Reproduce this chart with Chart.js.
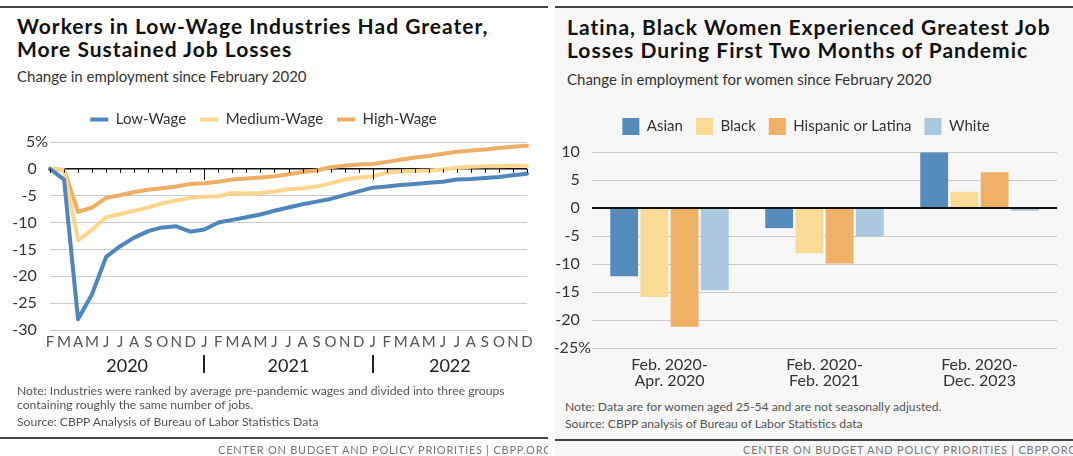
<!DOCTYPE html>
<html>
<head>
<meta charset="utf-8">
<script src="https://cdn.jsdelivr.net/npm/chart.js@4.4.1/dist/chart.umd.min.js"></script>
<style>
  body { margin: 0; width: 1073px; height: 456px; background: #fff; font-family: Lato, sans-serif; overflow: hidden; position: relative; }
  .panel { position: absolute; top: 0; height: 456px; overflow: hidden; }
  #left { left: 0; width: 548px; background: #fff; }
  #right { left: 555px; width: 518px; background: #fff; }
  #right .shade { position: absolute; left: 0; top: 8px; right: 0; bottom: 0; background: #f7f7f7; }
  .rule { position: absolute; left: 0; right: 0; height: 2px; background: #444; }
  h2 { position: absolute; margin: 0; font-size: 21px; line-height: 23px; font-weight: 700; letter-spacing: 1px; color: #111; white-space: nowrap; }
  .sub { position: absolute; margin: 0; font-size: 15px; color: #333; white-space: nowrap; }
  .note { position: absolute; margin: 0; font-size: 12.2px; line-height: 14px; color: #555; white-space: nowrap; }
  .footer { position: absolute; right: -4px; top: 443px; font-size: 11px; letter-spacing: 0.75px; color: #777; white-space: nowrap; }
  canvas { position: absolute; }
</style>
</head>
<body>

<div id="left" class="panel">
  <div class="rule" style="top:6px"></div>
  <h2 style="left:17px; top:14px">Workers in Low-Wage Industries Had Greater,<br>More Sustained Job Losses</h2>
  <p class="sub" style="left:17px; top:67px">Change in employment since February 2020</p>
  <canvas id="lineChart" width="548" height="287" style="left:0; top:98px"></canvas>
  <p class="note" style="left:17px; top:384px">Note: Industries were ranked by average pre-pandemic wages and divided into three groups<br>containing roughly the same number of jobs.</p>
  <p class="note" style="left:17px; top:415px">Source: CBPP Analysis of Bureau of Labor Statistics Data</p>
  <div class="rule" style="top:437px"></div>
  <div class="footer">CENTER ON BUDGET AND POLICY PRIORITIES | CBPP.ORG</div>
</div>

<div id="right" class="panel">
  <div class="shade"></div>
  <div class="rule" style="top:6px"></div>
  <h2 style="left:12px; top:15px">Latina, Black Women Experienced Greatest Job<br>Losses During First Two Months of Pandemic</h2>
  <p class="sub" style="left:12px; top:70px">Change in employment for women since February 2020</p>
  <canvas id="barChart" width="518" height="293" style="left:0; top:105px"></canvas>
  <p class="note" style="left:10px; top:400px">Note: Data are for women aged 25-54 and are not seasonally adjusted.</p>
  <p class="note" style="left:10px; top:417px">Source: CBPP analysis of Bureau of Labor Statistics data</p>
  <div class="rule" style="top:439px"></div>
  <div class="footer">CENTER ON BUDGET AND POLICY PRIORITIES | CBPP.ORG</div>
</div>

<script>
// monthly change in employment since Feb 2020, by industry wage group (%)
const months = ['F','M','A','M','J','J','A','S','O','N','D',
                'J','F','M','A','M','J','J','A','S','O','N','D',
                'J','F','M','A','M','J','J','A','S','O','N','D'];
const years = ['2020', '2021', '2022'];
const yearStarts = [0, 11, 23];

const lowWage = [0, -2.0, -28.0, -23.3, -16.4, -14.4, -12.8, -11.6, -10.9, -10.7, -11.7,
                 -11.3, -10.0, -9.5, -9.0, -8.5, -7.8, -7.2, -6.6, -6.1, -5.6, -4.9, -4.2,
                 -3.5, -3.3, -3.0, -2.8, -2.6, -2.4, -2.0, -1.9, -1.7, -1.5, -1.2, -0.9];
const mediumWage = [0, -0.3, -13.3, -11.3, -9.0, -8.4, -7.8, -7.2, -6.4, -5.9, -5.4,
                    -5.2, -5.1, -4.5, -4.6, -4.5, -4.2, -3.8, -3.6, -3.3, -2.7, -2.0, -1.6,
                    -1.4, -0.7, -0.5, -0.4, -0.3, -0.1, 0.2, 0.4, 0.5, 0.5, 0.6, 0.6];
const highWage = [0, -0.2, -8.0, -7.2, -5.4, -4.9, -4.3, -3.9, -3.6, -3.3, -2.8,
                  -2.7, -2.4, -2.0, -1.8, -1.6, -1.4, -1.0, -0.6, -0.3, 0.3, 0.6, 0.8,
                  0.9, 1.3, 1.7, 2.1, 2.4, 2.8, 3.2, 3.4, 3.6, 3.9, 4.1, 4.3];

// change in employment for women 25-54 since Feb 2020, by race/ethnicity (%)
const periods = [['Feb. 2020-', 'Apr. 2020'], ['Feb. 2020-', 'Feb. 2021'], ['Feb. 2020-', 'Dec. 2023']];
const asian = [-12.2, -3.6, 9.9];
const black = [-15.9, -8.1, 2.9];
const hispanic = [-21.2, -9.9, 6.4];
const white = [-14.7, -5.1, -0.5];

Chart.defaults.font.family = 'Lato, sans-serif';
Chart.defaults.color = '#333';

const pad = '\u2007\u2009'; // keeps numbers lined up with the "%" label

// adds some room under the legend
const legendGap = {
  id: 'legendGap',
  beforeInit(chart, args, opts) {
    const fit = chart.legend.fit;
    chart.legend.fit = function () {
      fit.call(this);
      this.height += opts.extra;
    };
  }
};

// zero line month ticks, year dividers and year names under the month letters
const yearAxis = {
  id: 'yearAxis',
  afterDraw(chart) {
    const ctx = chart.ctx;
    const x = chart.scales.x;
    const y0 = chart.scales.y.getPixelForValue(0);
    const bottom = chart.chartArea.bottom;
    ctx.save();
    ctx.strokeStyle = '#111';
    ctx.lineWidth = 1;
    months.forEach((m, i) => {
      const px = Math.round(x.getPixelForValue(i)) + 0.5;
      const len = yearStarts.includes(i) && i > 0 ? 11 : 4;
      ctx.beginPath();
      ctx.moveTo(px, y0);
      ctx.lineTo(px, y0 + len);
      ctx.stroke();
    });
    ctx.lineWidth = 2;
    ctx.strokeStyle = '#222';
    yearStarts.slice(1).forEach(i => {
      const px = Math.round(x.getPixelForValue(i));
      ctx.beginPath();
      ctx.moveTo(px, bottom + 25);
      ctx.lineTo(px, bottom + 43);
      ctx.stroke();
    });
    ctx.fillStyle = '#222';
    ctx.font = '18px Lato, sans-serif';
    ctx.textAlign = 'center';
    ctx.textBaseline = 'middle';
    years.forEach((yr, k) => {
      const from = x.getPixelForValue(yearStarts[k]);
      const to = x.getPixelForValue(k < years.length - 1 ? yearStarts[k + 1] : months.length - 1);
      ctx.fillText(yr, (from + to) / 2, bottom + 36);
    });
    ctx.restore();
  }
};

new Chart(document.getElementById('lineChart'), {
  type: 'line',
  data: {
    labels: months,
    datasets: [
      { label: 'Low-Wage', data: lowWage, borderColor: '#4f87bd', backgroundColor: '#4f87bd', borderWidth: 4 },
      { label: 'Medium-Wage', data: mediumWage, borderColor: '#fdd68c', backgroundColor: '#fdd68c', borderWidth: 4 },
      { label: 'High-Wage', data: highWage, borderColor: '#f0ae64', backgroundColor: '#f0ae64', borderWidth: 4 }
    ]
  },
  options: {
    responsive: false,
    animation: false,
    layout: { padding: { top: 0, right: 21, left: 0, bottom: 0 } },
    elements: {
      line: { tension: 0, borderJoinStyle: 'round', borderCapStyle: 'round' },
      point: { radius: 0 }
    },
    plugins: {
      legend: {
        labels: { usePointStyle: true, pointStyle: 'line', pointStyleWidth: 18, boxHeight: 16, padding: 14, font: { size: 15 }, color: '#333' }
      },
      legendGap: { extra: 5 },
      tooltip: { enabled: false }
    },
    scales: {
      x: {
        offset: false,
        grid: { display: false, drawTicks: false },
        border: { display: false },
        ticks: { autoSkip: false, maxRotation: 0, minRotation: 0, padding: 3, color: '#555', font: { size: 15 } },
        afterFit(scale) { scale.height = 55; }
      },
      y: {
        min: -30,
        max: 5,
        grid: {
          drawTicks: false,
          color: ctx => ctx.tick.value === 0 ? '#111' : '#ccc',
          lineWidth: ctx => ctx.tick.value === 0 ? 1.5 : 1
        },
        border: { display: false },
        ticks: {
          stepSize: 5,
          padding: 2,
          color: '#333',
          font: { size: 16 },
          callback: v => v === 5 ? '5%' : v + pad
        },
        afterFit(scale) { scale.width = 50; }
      }
    }
  },
  plugins: [legendGap, yearAxis]
});

new Chart(document.getElementById('barChart'), {
  type: 'bar',
  data: {
    labels: periods,
    datasets: [
      { label: 'Asian', data: asian, backgroundColor: '#568bbd' },
      { label: 'Black', data: black, backgroundColor: '#fadb95' },
      { label: 'Hispanic or Latina', data: hispanic, backgroundColor: '#f0b066' },
      { label: 'White', data: white, backgroundColor: '#aac9df' }
    ]
  },
  options: {
    responsive: false,
    animation: false,
    layout: { padding: { top: 0, right: 16, left: 0, bottom: 0 } },
    datasets: { bar: { categoryPercentage: 0.78, barPercentage: 0.92 } },
    plugins: {
      legend: {
        labels: { boxWidth: 17, boxHeight: 17, padding: 13, font: { size: 15 }, color: '#333' }
      },
      legendGap: { extra: 7 },
      tooltip: { enabled: false }
    },
    scales: {
      x: {
        grid: { display: false, drawTicks: false },
        border: { display: false },
        ticks: { padding: 9, color: '#333', font: { size: 16, lineHeight: 1 } },
        afterFit(scale) { scale.height = 50; }
      },
      y: {
        min: -25,
        max: 10,
        grid: {
          drawTicks: false,
          color: ctx => ctx.tick.value === 0 ? '#111' : '#ccc',
          lineWidth: ctx => ctx.tick.value === 0 ? 2 : 1
        },
        border: { display: false },
        ticks: {
          stepSize: 5,
          padding: 1,
          color: '#333',
          font: { size: 16 },
          callback: v => v === -25 ? '-25%' : v + pad
        },
        afterFit(scale) { scale.width = 37; }
      }
    }
  },
  plugins: [legendGap]
});
</script>
</body>
</html>
